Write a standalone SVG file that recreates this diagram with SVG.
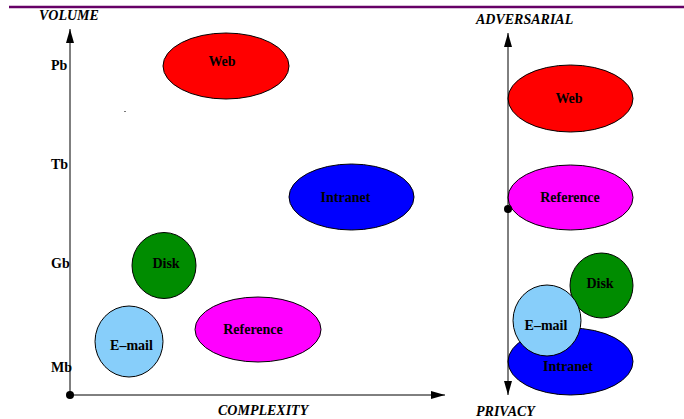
<svg xmlns="http://www.w3.org/2000/svg" width="684" height="419" viewBox="0 0 684 419">
<style>
.n{stroke:#000;stroke-width:1}
.t{font-family:"Liberation Serif","Times New Roman",serif;font-weight:bold;font-size:14px;fill:#000;text-anchor:middle}
.ax{font-family:"Liberation Serif","Times New Roman",serif;font-weight:bold;font-style:italic;font-size:14px;fill:#000}
.tk{font-family:"Liberation Serif","Times New Roman",serif;font-weight:bold;font-size:14px;fill:#000}
.axis{stroke:#000;stroke-width:1;fill:none}
</style>
<defs>
<marker id="ah" viewBox="0 0 14 8" refX="14" refY="4" markerWidth="14" markerHeight="8" markerUnits="userSpaceOnUse" orient="auto-start-reverse">
<path d="M0,0 L14,4 L0,8 Z" fill="#000"/>
</marker>
</defs>
<rect width="684" height="419" fill="#fff"/>
<line x1="9" y1="7" x2="684" y2="7" stroke="#660066" stroke-width="2.5"/>
<rect x="124" y="111" width="2" height="1" fill="#777"/>

<text class="ax" x="39" y="20">VOLUME</text>
<text class="ax" x="218" y="415">COMPLEXITY</text>
<text class="ax" x="476" y="24">ADVERSARIAL</text>
<text class="ax" x="476" y="416">PRIVACY</text>
<text class="tk" x="51" y="70">Pb</text>
<text class="tk" x="51" y="169">Tb</text>
<text class="tk" x="51" y="268">Gb</text>
<text class="tk" x="51" y="372">Mb</text>

<g id="left-web"><ellipse class="n" cx="226" cy="66" rx="63" ry="33" fill="#ff0000"/><text class="t" x="222" y="66">Web</text></g>
<g id="left-intranet"><ellipse class="n" cx="351.5" cy="197" rx="62.5" ry="33" fill="#0000ff"/><text class="t" x="345.5" y="202">Intranet</text></g>
<g id="left-disk"><ellipse class="n" cx="164" cy="265.5" rx="32" ry="33" fill="#008c00"/><text class="t" x="166" y="268">Disk</text></g>
<g id="left-email"><ellipse class="n" cx="129" cy="341.5" rx="34" ry="35.5" fill="#87cefa"/><text class="t" x="131.5" y="350">E–mail</text></g>
<g id="left-reference"><ellipse class="n" cx="258" cy="329.5" rx="63" ry="32.5" fill="#ff00ff"/><text class="t" x="253" y="334">Reference</text></g>

<g id="right-web"><ellipse class="n" cx="570.5" cy="98.5" rx="62.5" ry="33.5" fill="#ff0000"/><text class="t" x="569" y="103">Web</text></g>
<g id="right-reference"><ellipse class="n" cx="570.5" cy="197.5" rx="62.5" ry="32.5" fill="#ff00ff"/><text class="t" x="570" y="202">Reference</text></g>
<g id="right-intranet"><ellipse class="n" cx="570.5" cy="361.5" rx="62.5" ry="33.5" fill="#0000ff"/><text class="t" x="568" y="371">Intranet</text></g>
<g id="right-disk"><ellipse class="n" cx="601.5" cy="285.5" rx="31.5" ry="32.5" fill="#008c00"/><text class="t" x="600" y="288">Disk</text></g>
<g id="right-email"><ellipse class="n" cx="547" cy="320.5" rx="34" ry="35.5" fill="#87cefa"/><text class="t" x="546" y="330">E–mail</text></g>

<g id="connectors">
<line class="axis" x1="70" y1="395" x2="70" y2="29" marker-end="url(#ah)"/>
<line class="axis" x1="70" y1="395" x2="445" y2="395" marker-end="url(#ah)"/>
<circle cx="70" cy="395" r="4" fill="#000"/>
<line class="axis" x1="508" y1="33" x2="508" y2="395" marker-start="url(#ah)" marker-end="url(#ah)"/>
<circle cx="508" cy="209" r="4" fill="#000"/>
</g>
</svg>
